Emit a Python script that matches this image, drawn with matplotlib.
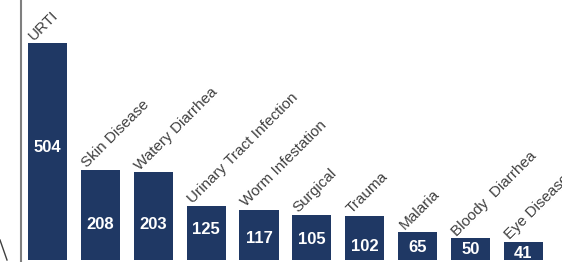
import matplotlib
matplotlib.use('Agg')
import matplotlib.pyplot as plt
from matplotlib.lines import Line2D

plt.rcParams['font.family'] = ['Liberation Sans', 'DejaVu Sans']

# data
diseases = ['URTI', 'Skin Disease', 'Watery Diarrhea', 'Urinary Tract Infection',
            'Worm Infestation', 'Surgical', 'Trauma', 'Malaria',
            'Bloody  Diarrhea', 'Eye Disease']
cases = [504, 208, 203, 125, 117, 105, 102, 65, 50, 41]

# where the white count labels sit (in value units, as placed on the original)
label_y = [262, 82, 82, 71, 50, 48, 32, 30, 25, 16]

bar_color = '#1f3864'
text_color = '#404040'

fig = plt.figure(figsize=(5.62, 2.62), dpi=100)
ax = fig.add_axes([21 / 562, 0, 1 - 21 / 562, 1])

xs = list(range(len(cases)))
width = 0.74
ax.bar(xs, cases, width=width, color=bar_color, zorder=2)

for x, v, ly, name in zip(xs, cases, label_y, diseases):
    ax.text(x, ly, str(v), color='white', fontsize=12, fontweight='bold',
            ha='center', va='center', zorder=3)
    ax.annotate(name, xy=(x - width / 2, v), xytext=(4.5, 1.5),
                textcoords='offset points', rotation=45,
                rotation_mode='anchor', ha='left', va='baseline',
                fontsize=11, color=text_color, annotation_clip=False)

ax.set_xlim(-0.501, 9.731)
ax.set_ylim(-4.57, 603)

for s in ['top', 'right', 'bottom']:
    ax.spines[s].set_visible(False)
ax.spines['left'].set_color('#7f7f7f')
ax.spines['left'].set_linewidth(1.5)
ax.set_xticks([])
ax.set_yticks([])

# stray stroke at the bottom-left edge of the crop
fig.add_artist(Line2D([0 / 562, 7 / 562], [1 - 240 / 262, 1 - 260 / 262],
                      color='#404040', linewidth=1.0))

fig.savefig('out.png', dpi=100)
